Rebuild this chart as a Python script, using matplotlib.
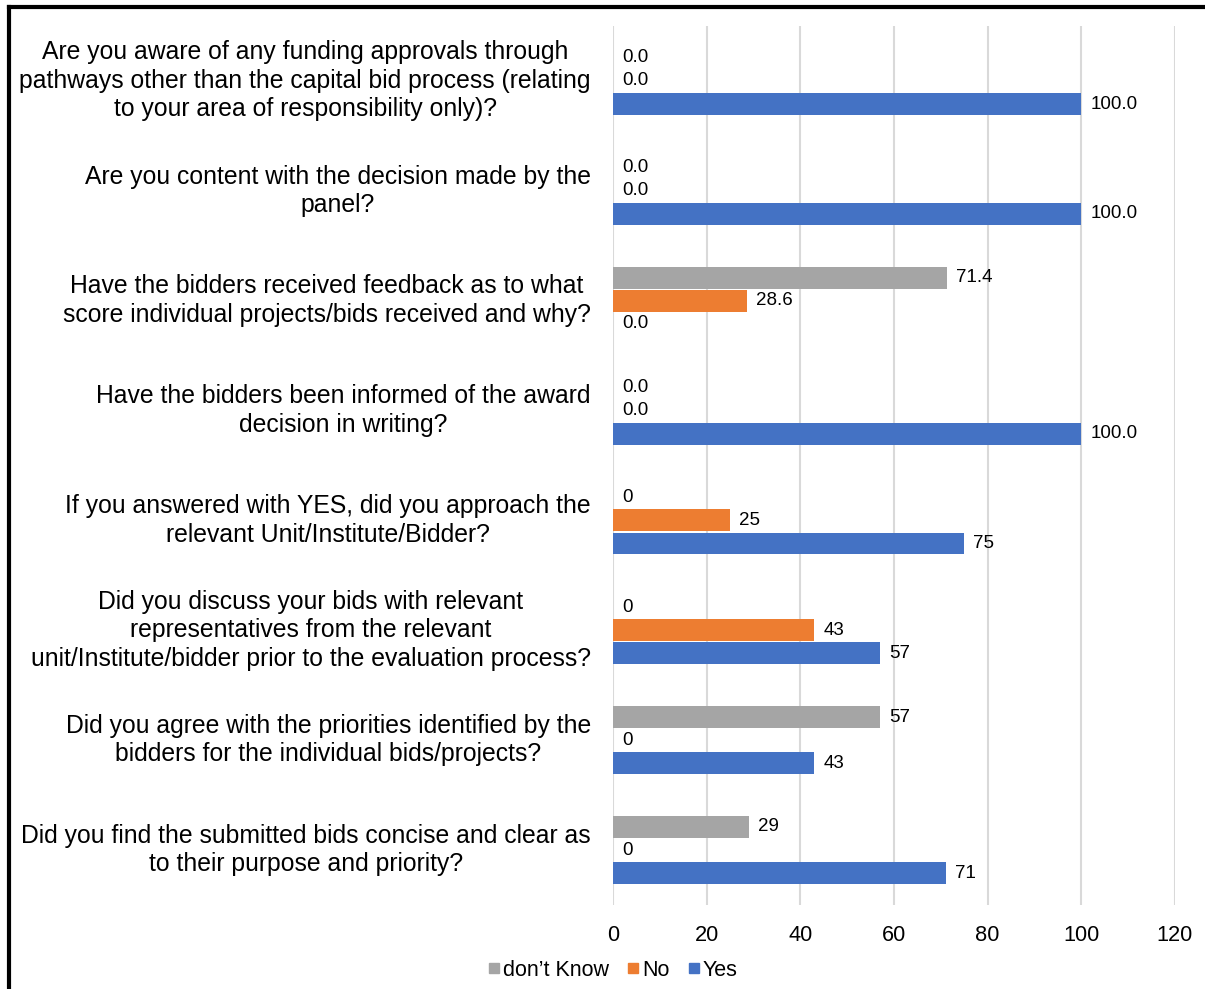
import matplotlib.pyplot as plt
from matplotlib.lines import Line2D
import numpy as np

plt.rcParams['font.family'] = ['Liberation Sans', 'DejaVu Sans']

# questions, top to bottom
questions = [
    "Are you aware of any funding approvals through\npathways other than the capital bid process (relating\nto your area of responsibility only)?",
    "Are you content with the decision made by the\npanel?",
    "Have the bidders received feedback as to what\nscore individual projects/bids received and why?",
    "Have the bidders been informed of the award\ndecision in writing?",
    "If you answered with YES, did you approach the\nrelevant Unit/Institute/Bidder?",
    "Did you discuss your bids with relevant\nrepresentatives from the relevant\nunit/Institute/bidder prior to the evaluation process?",
    "Did you agree with the priorities identified by the\nbidders for the individual bids/projects?",
    "Did you find the submitted bids concise and clear as\nto their purpose and priority?",
]
dont_know = [0.0, 0.0, 71.4, 0.0, 0, 0, 57, 29]
no = [0.0, 0.0, 28.6, 0.0, 25, 43, 0, 0]
yes = [100.0, 100.0, 0.0, 100.0, 75, 57, 43, 71]
label_fmt = ['%.1f'] * 4 + ['%d'] * 4

fig = plt.figure(figsize=(12.05, 9.89), dpi=100)
ax = fig.add_axes([613 / 1205, 1 - 905 / 989, (1175 - 613) / 1205, (905 - 26) / 989])

y = np.arange(len(questions))
h = 0.2
off = 0.21
series = [
    (dont_know, -off, '#A5A5A5', 'don\u2019t Know'),
    (no, 0, '#ED7D31', 'No'),
    (yes, off, '#4472C4', 'Yes'),
]
for vals, dy, col, name in series:
    bars = ax.barh(y + dy, vals, height=h, color=col, label=name)
    for b, v, fmt in zip(bars, vals, label_fmt):
        ax.annotate(fmt % v, (v, b.get_y() + b.get_height() / 2),
                    xytext=(9, 0), textcoords='offset pixels',
                    va='center', ha='left', fontsize=13.5, color='#000000')

ax.set_xlim(0, 120)
ax.set_xticks(range(0, 121, 20))
ax.set_ylim(7.5, -0.5)
ax.set_yticks(y)
ax.set_yticklabels(questions, fontsize=17.8, multialignment='center',
                   linespacing=1.24, va='center')
ax.tick_params(axis='y', length=0, pad=16)
ax.tick_params(axis='x', length=0, labelsize=15.7, pad=14.5)
for s in ax.spines.values():
    s.set_visible(False)
ax.grid(axis='x', color='#D9D9D9', linewidth=1.5)
ax.set_axisbelow(True)

handles = [Line2D([], [], marker='s', linestyle='none', markersize=7.5, color=c)
           for c in ['#A5A5A5', '#ED7D31', '#4472C4']]
fig.legend(handles, ['don\u2019t Know', 'No', 'Yes'], loc='center',
           bbox_to_anchor=(613 / 1205, 1 - 970 / 989), ncol=3, frameon=False,
           fontsize=15.5, handlelength=0.5, handletextpad=0.15, columnspacing=0.9)

# outer border (left and top only visible)
fig.add_artist(Line2D([9 / 1205, 9 / 1205], [0, 1 - 7 / 989], color='black', linewidth=3))
fig.add_artist(Line2D([9 / 1205, 1], [1 - 7 / 989, 1 - 7 / 989], color='black', linewidth=3))

fig.savefig('out.png', dpi=100)
